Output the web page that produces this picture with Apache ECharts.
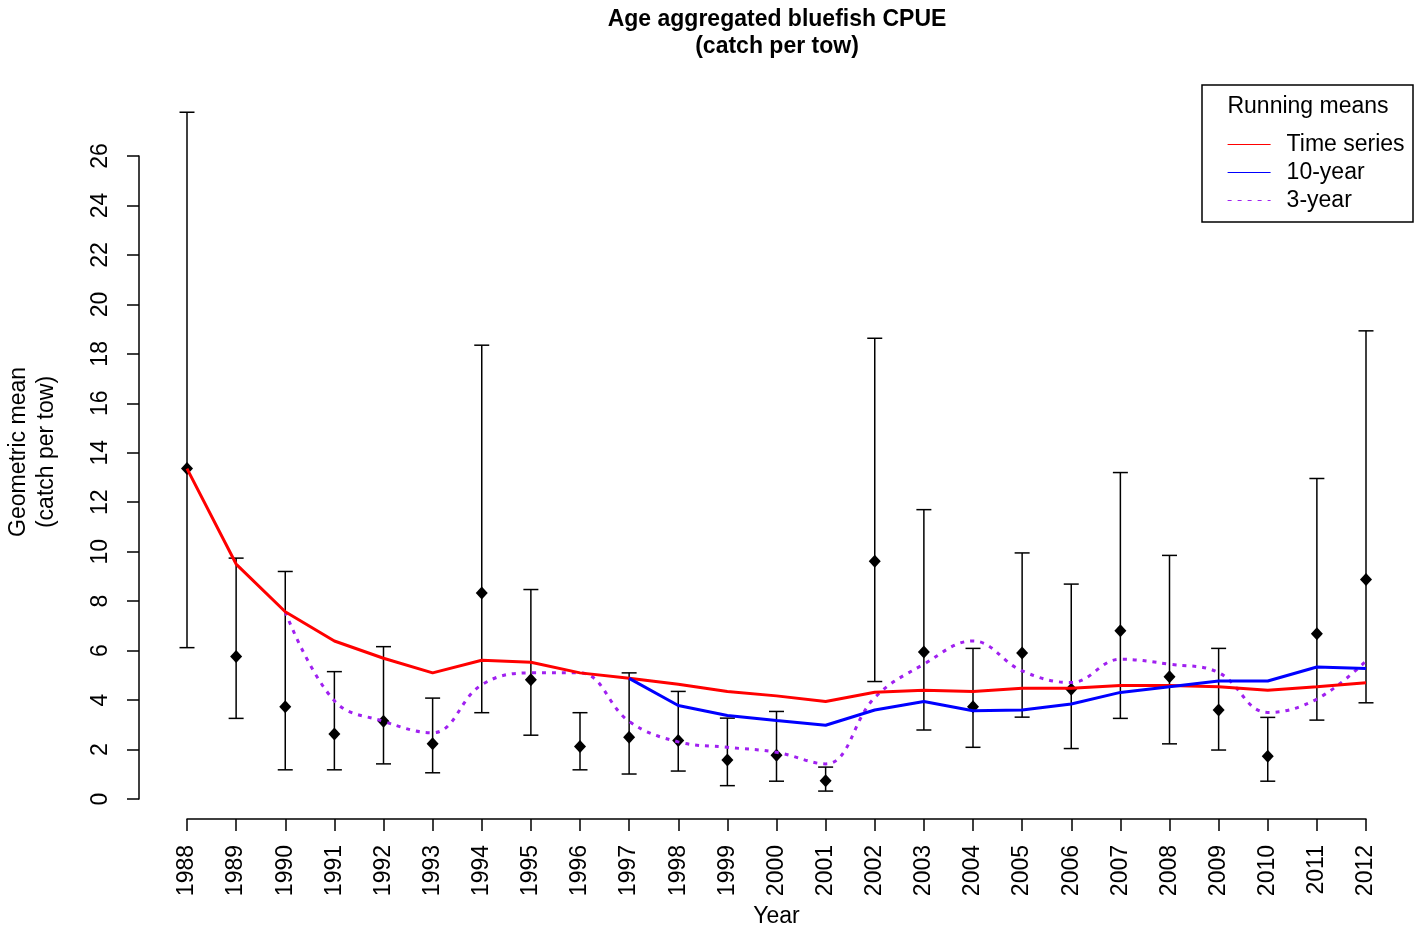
<!DOCTYPE html>
<html>
<head>
<meta charset="utf-8">
<script src="https://cdn.jsdelivr.net/npm/echarts@6/dist/echarts.min.js"></script>
<style>
html,body{margin:0;padding:0;background:#fff;}
#chart{width:1419px;height:933px;}
</style>
</head>
<body>
<div id="chart"></div>
<script>
var years = [1988,1989,1990,1991,1992,1993,1994,1995,1996,1997,1998,1999,2000,2001,2002,2003,2004,2005,2006,2007,2008,2009,2010,2011,2012];
var cpue  = [13.36,5.76,3.73,2.63,3.14,2.23,8.33,4.82,2.12,2.50,2.37,1.58,1.77,0.74,9.61,5.94,3.73,5.90,4.44,6.80,4.94,3.60,1.73,6.68,8.88];
var lower = [6.12,3.26,1.18,1.18,1.42,1.06,3.49,2.58,1.18,1.01,1.13,0.54,0.72,0.32,4.75,2.79,2.09,3.31,2.04,3.26,2.23,1.98,0.72,3.19,3.89];
var upper = [27.77,9.74,9.20,5.15,6.16,4.08,18.35,8.47,3.49,5.10,4.35,3.27,3.54,1.29,18.63,11.70,6.09,9.95,8.69,13.20,9.85,6.09,3.30,12.96,18.93];
var runTimeSeries = [13.36,9.50,7.57,6.39,5.69,5.10,5.61,5.53,5.10,4.88,4.64,4.35,4.17,3.94,4.32,4.40,4.35,4.48,4.48,4.59,4.59,4.54,4.40,4.54,4.70];
var run10Year = [null,null,null,null,null,null,null,null,null,4.88,3.78,3.38,3.17,2.98,3.60,3.94,3.57,3.60,3.84,4.31,4.54,4.77,4.77,5.34,5.28];
var run3Year = [null,null,7.57,3.97,3.14,2.68,4.62,5.10,5.10,3.14,2.31,2.09,1.89,1.42,4.10,5.45,6.39,5.18,4.71,5.65,5.45,5.11,3.50,4.04,5.58];
var yTicks = [0,2,4,6,8,10,12,14,16,18,20,22,24,26];
var seriesNames = ['Time series','10-year','3-year'];
var legendTitle = 'Running means';

var FONT = 'Liberation Sans, Arial, sans-serif';
var FS = 23;
function pairs(vals){ return years.map(function(y,i){ return [y, vals[i]]; }); }

var chart = echarts.init(document.getElementById('chart'), null, {renderer:'canvas'});
var option = {
  animation: false,
  backgroundColor: '#fff',
  title: {
    text: 'Age aggregated bluefish CPUE\n(catch per tow)',
    left: 772, top: 1, textAlign: 'center',
    textStyle: {fontFamily: FONT, fontWeight: 'bold', fontSize: 23, lineHeight: 27, color: '#000'}
  },
  grid: {left: 187, right: 53, top: 156, bottom: 127, containLabel: false},
  xAxis: {
    type: 'value', min: 1988, max: 2012, interval: 1, offset: 20,
    name: 'Year', nameLocation: 'middle', nameGap: 86,
    nameTextStyle: {fontFamily: FONT, fontSize: FS, color: '#000'},
    axisLine: {show: true, onZero: false, lineStyle: {color: '#000', width: 1.5}},
    axisTick: {show: true, length: 12, lineStyle: {color: '#000', width: 1.5}},
    axisLabel: {rotate: 90, margin: 26, fontFamily: FONT, fontSize: FS, color: '#000',
      formatter: function(v){ return years.indexOf(v) >= 0 ? String(v) : ''; }},
    splitLine: {show: false}
  },
  yAxis: {
    type: 'value', min: yTicks[0], max: yTicks[yTicks.length-1], interval: 2, offset: 48,
    axisLine: {show: true, onZero: false, lineStyle: {color: '#000', width: 1.5}},
    axisTick: {show: true, length: 12, lineStyle: {color: '#000', width: 1.5}},
    axisLabel: {rotate: 90, margin: 27, fontFamily: FONT, fontSize: FS, color: '#000'},
    splitLine: {show: false}
  },
  legend: {
    orient: 'vertical', left: 1222, top: 128, itemGap: 5, itemWidth: 43, itemHeight: 20,
    data: seriesNames,
    textStyle: {fontFamily: FONT, fontSize: FS, color: '#000', padding: [0,0,0,11]},
    lineStyle: {width: 1.2},
    itemStyle: {opacity: 0},
    selectedMode: false
  },
  graphic: [
    {type: 'rect', shape: {x: 1202, y: 85, width: 211, height: 137},
      style: {fill: 'none', stroke: '#000', lineWidth: 1.5}, z: 100},
    {type: 'text', x: 1308, y: 107, z: 100,
      style: {text: legendTitle, font: FS + 'px ' + FONT, fill: '#000', textAlign: 'center', textVerticalAlign: 'middle'}},
    {type: 'text', x: 33, y: 452, rotation: Math.PI/2, z: 100,
      style: {text: 'Geometric mean\n(catch per tow)', font: FS + 'px ' + FONT, lineHeight: 28, fill: '#000', textAlign: 'center', textVerticalAlign: 'middle'}}
  ],
  series: [
    {
      type: 'custom', name: 'errbars', clip: false, z: 2,
      data: years.map(function(y,i){ return [y, lower[i], upper[i]]; }),
      renderItem: function(params, api){
        var lo = api.coord([api.value(0), api.value(1)]);
        var hi = api.coord([api.value(0), api.value(2)]);
        var hw = 7.5;
        var st = {stroke: '#000', lineWidth: 1.5};
        return {type: 'group', children: [
          {type: 'line', shape: {x1: lo[0], y1: lo[1], x2: hi[0], y2: hi[1]}, style: st},
          {type: 'line', shape: {x1: lo[0]-hw, y1: lo[1], x2: lo[0]+hw, y2: lo[1]}, style: st},
          {type: 'line', shape: {x1: hi[0]-hw, y1: hi[1], x2: hi[0]+hw, y2: hi[1]}, style: st}
        ]};
      }
    },
    {
      type: 'scatter', name: 'cpue', data: pairs(cpue), symbol: 'diamond', symbolSize: [12,13],
      itemStyle: {color: '#000', opacity: 1}, z: 3, clip: false
    },
    {
      type: 'line', name: seriesNames[0], data: pairs(runTimeSeries), symbol: 'none',
      lineStyle: {color: '#FF0000', width: 3}, itemStyle: {color: '#FF0000'}, z: 5, clip: false
    },
    {
      type: 'line', name: seriesNames[1], data: pairs(run10Year), symbol: 'none', connectNulls: false,
      lineStyle: {color: '#0000FF', width: 3}, itemStyle: {color: '#0000FF'}, z: 5, clip: false
    },
    {
      type: 'line', name: seriesNames[2], data: pairs(run3Year), symbol: 'none', smooth: 0.4,
      lineStyle: {color: '#A020F0', width: 3, type: [4,6]}, itemStyle: {color: '#A020F0'}, z: 4, clip: false
    }
  ]
};
chart.setOption(option);
</script>
</body>
</html>
